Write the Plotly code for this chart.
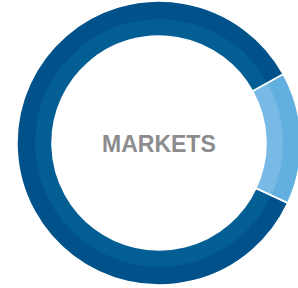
import plotly.graph_objects as go

labels = ["Other", "Markets"]
values = [15, 85]
outer_colors = ["#62b0e0", "#01528a"]
inner_colors = ["#78b9e5", "#035e94"]
center_label = "MARKETS"

W, H = 302, 288
cx, cy = 159, 143
R_out, R_mid, R_in = 142, 124, 107
ROT = 61

def dom(r):
    return dict(x=[(cx - r) / W, (cx + r) / W], y=[1 - (cy + r) / H, 1 - (cy - r) / H])

fig = go.Figure()
fig.add_trace(go.Pie(labels=labels, values=values, hole=(R_in + 3) / R_out, sort=False,
                     direction="clockwise", rotation=ROT, domain=dom(R_out),
                     marker=dict(colors=outer_colors, line=dict(width=0)),
                     textinfo="none", hoverinfo="none", showlegend=False))
fig.add_trace(go.Pie(labels=labels, values=values, hole=R_in / R_mid, sort=False,
                     direction="clockwise", rotation=ROT, domain=dom(R_mid),
                     marker=dict(colors=inner_colors, line=dict(width=0)),
                     textinfo="none", hoverinfo="none", showlegend=False))
fig.add_trace(go.Pie(labels=labels, values=values, hole=R_in / R_out, sort=False,
                     direction="clockwise", rotation=ROT, domain=dom(R_out),
                     marker=dict(colors=["rgba(0,0,0,0)", "rgba(0,0,0,0)"],
                                 line=dict(color="white", width=1.5)),
                     textinfo="none", hoverinfo="none", showlegend=False))
fig.add_annotation(text="<b>" + center_label + "</b>", x=cx / W, y=1 - (cy + 1) / H,
                   xref="paper", yref="paper", showarrow=False,
                   font=dict(family="Liberation Sans, Arial", size=23, color="#8c8c8e"))
fig.update_layout(width=W, height=H, margin=dict(l=0, r=0, t=0, b=0),
                  paper_bgcolor="white", plot_bgcolor="white")
fig.write_html("out.html", config={"displayModeBar": False},
               post_script="document.body.style.margin='0';document.body.style.overflow='hidden';")
